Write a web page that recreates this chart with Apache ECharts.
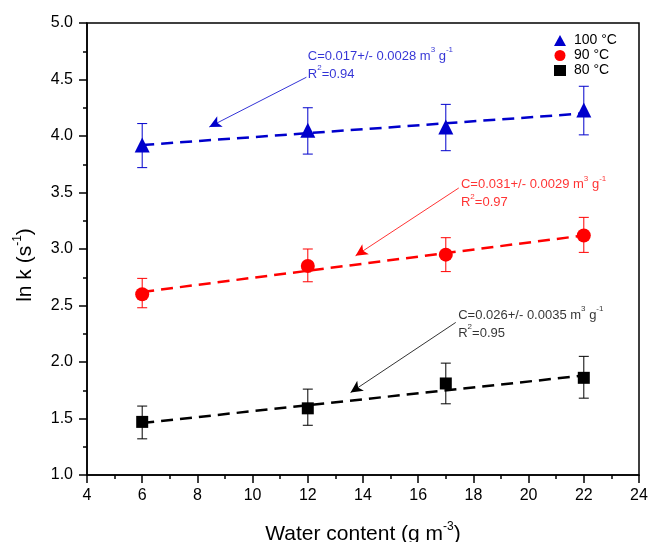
<!DOCTYPE html>
<html><head><meta charset="utf-8">
<script src="https://cdn.jsdelivr.net/npm/echarts@6/dist/echarts.min.js"></script>
<style>html,body{margin:0;padding:0;background:#fff}#c{width:651px;height:542px}</style>
</head><body><div id="c"></div>
<script>
// Data
const waterContent = [6, 12, 17, 22];
const lnk100 = [3.92, 4.05, 4.08, 4.23];
const err100Low = [3.72, 3.84, 3.87, 4.01];
const err100High = [4.11, 4.25, 4.28, 4.44];
const lnk90 = [2.60, 2.85, 2.95, 3.12];
const err90Low = [2.48, 2.71, 2.80, 2.97];
const err90High = [2.74, 3.00, 3.10, 3.28];
const lnk80 = [1.47, 1.59, 1.81, 1.86];
const err80Low = [1.32, 1.44, 1.63, 1.68];
const err80High = [1.61, 1.76, 1.99, 2.05];
const fitX = [6, 22];
const fit100 = [3.92, 4.20];
const fit90 = [2.62, 3.12];
const fit80 = [1.46, 1.88];
const seriesNames = ['100 °C', '90 °C', '80 °C'];
const colors = ['#0000cc', '#ff0000', '#000000'];
// annotation anchors in data units: [arrowStartX, arrowStartY, arrowEndX, arrowEndY, textX, textY]
const ann100 = [11.95, 4.52, 8.43, 4.08, 12.0, 4.645];
const ann90 = [17.47, 3.54, 13.73, 2.94, 17.55, 3.51];
const ann80 = [17.36, 2.35, 13.55, 1.73, 17.45, 2.355];
const annText100 = ['0.017', '0.0028', '0.94'];
const annText90 = ['0.031', '0.0029', '0.97'];
const annText80 = ['0.026', '0.0035', '0.95'];

const FONT = 'Liberation Sans, Arial, sans-serif';
const chart = echarts.init(document.getElementById('c'), null, {renderer: 'canvas'});

function pts(ys) { return waterContent.map((x, i) => [x, ys[i]]); }
function errData(lo, hi) { return waterContent.map((x, i) => [x, lo[i], hi[i]]); }

function errSeries(lo, hi, color) {
  return {
    type: 'custom', data: errData(lo, hi), z: 2, silent: true,
    renderItem: function (params, api) {
      const x = api.value(0);
      const p1 = api.coord([x, api.value(1)]);
      const p2 = api.coord([x, api.value(2)]);
      const w = 5;
      const st = {stroke: color, lineWidth: 1};
      return {type: 'group', children: [
        {type: 'line', shape: {x1: p1[0], y1: p1[1], x2: p2[0], y2: p2[1]}, style: st},
        {type: 'line', shape: {x1: p1[0] - w, y1: p1[1], x2: p1[0] + w, y2: p1[1]}, style: st},
        {type: 'line', shape: {x1: p2[0] - w, y1: p2[1], x2: p2[0] + w, y2: p2[1]}, style: st}
      ]};
    }
  };
}

function fitSeries(ys, color) {
  return {
    type: 'line', data: fitX.map((x, i) => [x, ys[i]]), symbol: 'none', z: 3, silent: true,
    lineStyle: {color: color, width: 2.5, type: [12, 7]}
  };
}

function annSeries(a, t, color) {
  return {
    type: 'scatter', symbolSize: 0, silent: true, z: 5,
    data: [[a[4], a[5]]],
    label: {
      show: true, position: 'right', distance: 0, color: color,
      formatter: '{a|C=' + t[0] + '+/- ' + t[1] + ' m}{s|3}{a| g}{s|-1}\n{a|R}{s|2}{a|=' + t[2] + '}',
      rich: {
        a: {fontFamily: FONT, fontSize: 13, color: color, lineHeight: 18, verticalAlign: 'bottom'},
        s: {fontFamily: FONT, fontSize: 8, color: color, lineHeight: 18, verticalAlign: 'top', padding: [1, 0, 0, 0]}
      }
    },
    markLine: {
      silent: true, symbol: ['none', 'arrow'], symbolSize: [9, 12],
      lineStyle: {color: color, width: 0.8, type: 'solid'}, label: {show: false},
      data: [[{coord: [a[0], a[1]]}, {coord: [a[2], a[3]]}]]
    }
  };
}

const axisCommon = {
  axisLine: {show: true, onZero: false, lineStyle: {color: '#000', width: 1.5}},
  axisTick: {show: true, inside: false, length: 8, lineStyle: {color: '#000', width: 1.5}},
  minorTick: {show: true, splitNumber: 2, length: 4, lineStyle: {color: '#000', width: 1.5}},
  splitLine: {show: false}
};

const option = {
  backgroundColor: '#fff',
  animation: false,
  textStyle: {fontFamily: FONT},
  grid: {left: 87, right: 12, top: 23, bottom: 67, containLabel: false, outerBoundsMode: 'none',
    show: true, borderColor: '#000', borderWidth: 1.5, backgroundColor: 'transparent'},
  legend: {
    orient: 'vertical', left: 549, top: 28, itemGap: 0, itemWidth: 12, itemHeight: 11,
    data: [
      {name: seriesNames[0], icon: 'triangle'},
      {name: seriesNames[1], icon: 'circle'},
      {name: seriesNames[2], icon: 'rect'}
    ],
    textStyle: {fontFamily: FONT, fontSize: 14, color: '#000', lineHeight: 15, padding: [0, 0, 0, 3]}
  },
  xAxis: Object.assign({
    type: 'value', min: 4, max: 24, interval: 2,
    axisLabel: {color: '#000', fontSize: 16, fontFamily: FONT, margin: 13},
    name: '{t|Water content (g m}{s|-3}{t|)}', nameLocation: 'middle', nameGap: 46,
    nameTextStyle: {rich: {
      t: {fontFamily: FONT, fontSize: 21, color: '#000', lineHeight: 24, verticalAlign: 'bottom'},
      s: {fontFamily: FONT, fontSize: 12, color: '#000', lineHeight: 24, verticalAlign: 'top'}
    }}
  }, axisCommon),
  yAxis: Object.assign({
    type: 'value', min: 1, max: 5, interval: 0.5,
    axisLabel: {color: '#000', fontSize: 16, fontFamily: FONT, margin: 14, formatter: v => v.toFixed(1)},
    name: '{t|ln k (s}{s|-1}{t|)}', nameLocation: 'middle', nameGap: 51, nameRotate: 90,
    nameTextStyle: {padding: [0, 32, 0, 0], rich: {
      t: {fontFamily: FONT, fontSize: 21, color: '#000', lineHeight: 24, verticalAlign: 'bottom'},
      s: {fontFamily: FONT, fontSize: 12, color: '#000', lineHeight: 24, verticalAlign: 'top'}
    }}
  }, axisCommon),
  series: [
    errSeries(err100Low, err100High, colors[0]),
    errSeries(err90Low, err90High, colors[1]),
    errSeries(err80Low, err80High, colors[2]),
    fitSeries(fit100, colors[0]),
    fitSeries(fit90, colors[1]),
    fitSeries(fit80, colors[2]),
    {name: seriesNames[0], type: 'scatter', symbol: 'triangle', symbolSize: 15, data: pts(lnk100), itemStyle: {color: colors[0], opacity: 1}, z: 4},
    {name: seriesNames[1], type: 'scatter', symbol: 'circle', symbolSize: 14, data: pts(lnk90), itemStyle: {color: colors[1], opacity: 1}, z: 4},
    {name: seriesNames[2], type: 'scatter', symbol: 'rect', symbolSize: 12, data: pts(lnk80), itemStyle: {color: colors[2], opacity: 1}, z: 4},
    annSeries(ann100, annText100, colors[0]),
    annSeries(ann90, annText90, colors[1]),
    annSeries(ann80, annText80, colors[2])
  ]
};
chart.setOption(option);
</script>
</body></html>
